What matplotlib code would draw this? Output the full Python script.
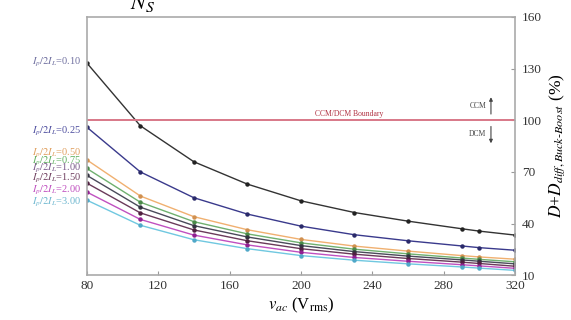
import matplotlib
matplotlib.use("Agg")
import matplotlib.pyplot as plt

plt.rcParams['font.family'] = ['Liberation Serif', 'DejaVu Serif']
plt.rcParams['mathtext.fontset'] = 'stix'

v_ac = [80, 110, 140, 170, 200, 230, 260, 290, 300, 320]
ratios = ["0.10", "0.25", "0.50", "0.75", "1.00", "1.50", "2.00", "3.00"]
d_010 = [133.3, 96.8, 75.9, 62.9, 53.2, 46.4, 41.4, 37.0, 35.6, 33.3]
d_025 = [96.0, 70.0, 55.0, 45.5, 38.5, 33.5, 30.0, 27.0, 26.0, 24.5]
d_050 = [77.0, 56.0, 44.0, 36.4, 30.8, 26.9, 24.0, 21.4, 20.6, 19.3]
d_075 = [72.0, 52.4, 41.1, 34.0, 28.8, 25.1, 22.4, 20.0, 19.2, 17.8]
d_100 = [68.0, 49.5, 38.8, 32.2, 27.2, 23.7, 21.1, 18.9, 18.1, 16.6]
d_150 = [63.5, 46.2, 36.3, 30.0, 25.4, 22.2, 19.7, 17.6, 16.8, 15.2]
d_200 = [58.3, 42.4, 33.3, 27.6, 23.3, 20.3, 18.1, 16.1, 15.4, 14.0]
d_300 = [53.6, 39.0, 30.6, 25.4, 21.4, 18.7, 16.6, 14.8, 14.1, 12.8]
series = [d_010, d_025, d_050, d_075, d_100, d_150, d_200, d_300]
x_ticks = [80, 120, 160, 200, 240, 280, 320]
y_ticks = [10, 40, 70, 100, 130, 160]

line_colors = ["#333333", "#3a3a8c", "#f0b070", "#6fb06f", "#4a4a5a", "#6a3a5a", "#c050c0", "#70c8e0"]
marker_colors = ["#222222", "#2a2a6a", "#d09050", "#4a8a4a", "#333340", "#502040", "#902090", "#50a8c8"]
label_colors = ["#7070a0", "#5050a0", "#e0a060", "#60b060", "#7a5a8a", "#704060", "#c050c0", "#70b8d0"]
label_y_txt = [133.8, 93.7, 80.9, 76.3, 72.2, 66.4, 59.4, 52.4]

fig = plt.figure(figsize=(5.71, 3.2), dpi=100)
ax = fig.add_axes([0.152, 0.14, 0.75, 0.807])

for d, lc, mc in zip(series, line_colors, marker_colors):
    ax.plot(v_ac, d, color=lc, lw=1.0, marker='o', ms=2.2, mfc=mc, mec=mc)

ax.axhline(100, color="#d87888", lw=1.4)
ax.text(208, 101.5, "CCM/DCM Boundary", color="#b03040", fontsize=5.5, ha='left', va='bottom')
ax.text(304, 108, "CCM", fontsize=5.5, ha='right', va='center', color="#444444")
ax.text(304, 92, "DCM", fontsize=5.5, ha='right', va='center', color="#444444")
ax.annotate("", xy=(306.5, 115), xytext=(306.5, 102),
            arrowprops=dict(arrowstyle='-|>', color="#444444", lw=0.8, mutation_scale=5))
ax.annotate("", xy=(306.5, 85), xytext=(306.5, 98),
            arrowprops=dict(arrowstyle='-|>', color="#444444", lw=0.8, mutation_scale=5))

for r, c, yt in zip(ratios, label_colors, label_y_txt):
    ax.text(77, yt, r"$I_p/2I_L$=" + r, color=c, fontsize=7.5, ha='right', va='center', clip_on=False)

ax.set_xlim(80, 320)
ax.set_ylim(10, 160)
ax.set_xticks(x_ticks)
ax.set_yticks(y_ticks)
ax.yaxis.tick_right()
ax.yaxis.set_label_position('right')
ax.tick_params(axis='both', direction='in', length=3, color="#999999", labelsize=9.5, labelcolor="#333333")
ax.tick_params(axis='y', pad=5)
for s in ax.spines.values():
    s.set_color("#aaaaaa")
    s.set_linewidth(1.2)

ax.set_xlabel(r"$v_{ac}$ (V$_{\mathrm{rms}}$)", fontsize=12, labelpad=3)
ax.set_ylabel(r"$D$+$D_{diff,Buck\text{-}Boost}$ (%)", fontsize=12.5, labelpad=4)

fig.text(0.228, 0.99, r"$N_S$", fontsize=16, ha='left', va='center')

fig.savefig("out.png", dpi=100)
